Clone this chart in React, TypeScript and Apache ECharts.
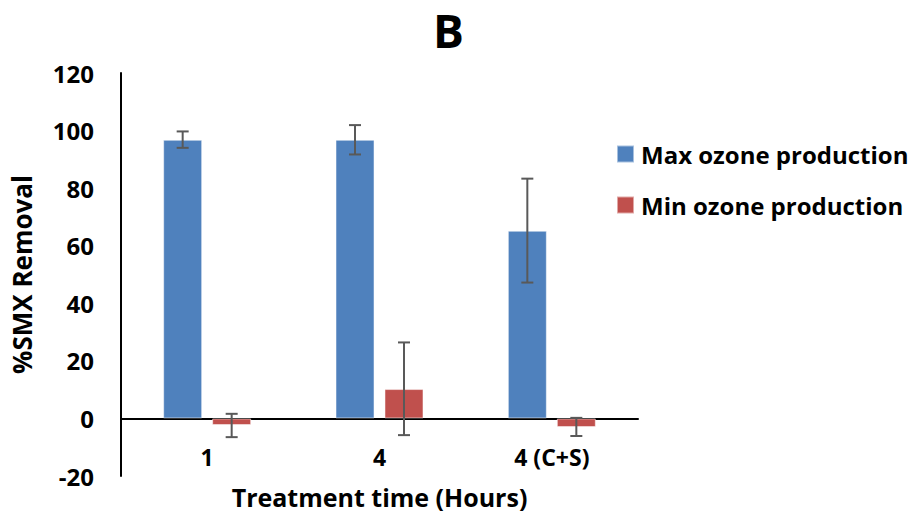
import React, { useEffect, useRef } from "react";
import * as echarts from "echarts";

const categories = ["1", "4", "4 (C+S)"];
const seriesNames = ["Max ozone production", "Min ozone production"];
const maxValues = [96.8, 96.8, 65.2];
const minValues = [-2.3, 10.2, -3.0];
const maxErrLow = [94.0, 91.7, 47.2];
const maxErrHigh = [99.7, 101.9, 83.3];
const minErrLow = [-6.5, -5.8, -6.1];
const minErrHigh = [1.6, 26.4, 0.2];
const yTicks = { min: -20, max: 120, interval: 20 };

const FONT = "'Open Sans', sans-serif";
const BLUE = "#4F81BD";
const RED = "#C0504D";
const ERR = "#595959";
const BAR_W = 39;
const BAR_GAP_PX = 10;

function errorSeries(low: number[], high: number[], offset: number) {
  const data = categories.map((_, i) => [i, low[i], high[i]]);
  return {
    type: "custom",
    z: 5,
    silent: true,
    data,
    encode: { x: 0, y: [1, 2] },
    renderItem: (params: any, api: any) => {
      const i = api.value(0);
      const lo = api.coord([i, api.value(1)]);
      const hi = api.coord([i, api.value(2)]);
      const x = lo[0] + offset;
      const cap = 6;
      const style = { stroke: ERR, lineWidth: 2, fill: "none" };
      return {
        type: "group",
        children: [
          { type: "line", shape: { x1: x, y1: hi[1], x2: x, y2: lo[1] }, style },
          { type: "line", shape: { x1: x - cap, y1: hi[1], x2: x + cap, y2: hi[1] }, style },
          { type: "line", shape: { x1: x - cap, y1: lo[1], x2: x + cap, y2: lo[1] }, style },
        ],
      };
    },
  };
}

export default function App() {
  const ref = useRef<HTMLDivElement>(null);
  useEffect(() => {
    if (!ref.current) return;
    const chart = echarts.init(ref.current, undefined, { renderer: "svg" });
    const off = (BAR_W + BAR_GAP_PX) / 2;
    chart.setOption({
      animation: false,
      backgroundColor: "#ffffff",
      graphic: [
        {
          type: "text",
          x: 448.5,
          y: 30,
          style: {
            text: "B",
            font: `bold 46px ${FONT}`,
            fill: "#000",
            textAlign: "center",
            textVerticalAlign: "middle",
          },
        },
      ],
      legend: {
        orient: "vertical",
        left: 616,
        top: 142,
        padding: 0,
        itemWidth: 17,
        itemHeight: 17,
        itemGap: 27,
        icon: "rect",
        data: seriesNames,
        textStyle: {
          fontFamily: FONT,
          fontWeight: "bold",
          fontSize: 24,
          lineHeight: 24,
          color: "#000",
          padding: [0, 0, 0, 2],
        },
      },
      grid: {
        left: 121,
        right: 278,
        top: 73,
        bottom: 39,
        containLabel: false,
        outerBoundsMode: "none",
      },
      xAxis: {
        type: "category",
        data: categories,
        name: "Treatment time (Hours)",
        nameLocation: "middle",
        nameGap: 8,
        nameTextStyle: { fontFamily: FONT, fontWeight: "bold", fontSize: 25, lineHeight: 26, color: "#000" },
        axisLine: { onZero: true, lineStyle: { color: "#000", width: 2 } },
        axisTick: { show: false },
        axisLabel: { fontFamily: FONT, fontWeight: "bold", fontSize: 23, color: "#000", margin: -31 },
        splitLine: { show: false },
      },
      yAxis: {
        type: "value",
        min: yTicks.min,
        max: yTicks.max,
        interval: yTicks.interval,
        name: "%SMX Removal",
        nameLocation: "middle",
        nameGap: 86,
        nameTextStyle: { fontFamily: FONT, fontWeight: "bold", fontSize: 26, color: "#000" },
        axisLine: { show: true, lineStyle: { color: "#000", width: 2 } },
        axisTick: { show: false },
        axisLabel: { fontFamily: FONT, fontWeight: "bold", fontSize: 24, color: "#000", margin: 27 },
        splitLine: { show: false },
      },
      series: [
        {
          name: seriesNames[0],
          type: "bar",
          data: maxValues,
          barWidth: BAR_W,
          barGap: `${((BAR_GAP_PX / BAR_W) * 100).toFixed(1)}%`,
          itemStyle: { color: BLUE, borderColor: "rgba(255,255,255,0.5)", borderWidth: 1 },
        },
        {
          name: seriesNames[1],
          type: "bar",
          data: minValues,
          barWidth: BAR_W,
          barGap: `${((BAR_GAP_PX / BAR_W) * 100).toFixed(1)}%`,
          itemStyle: { color: RED, borderColor: "rgba(255,255,255,0.5)", borderWidth: 1 },
        },
        errorSeries(maxErrLow, maxErrHigh, -off),
        errorSeries(minErrLow, minErrHigh, off),
      ],
    });
    return () => chart.dispose();
  }, []);
  return (
    <div
      ref={ref}
      style={{ position: "absolute", left: 0, top: 0, width: 916, height: 515, background: "#fff" }}
    />
  );
}
